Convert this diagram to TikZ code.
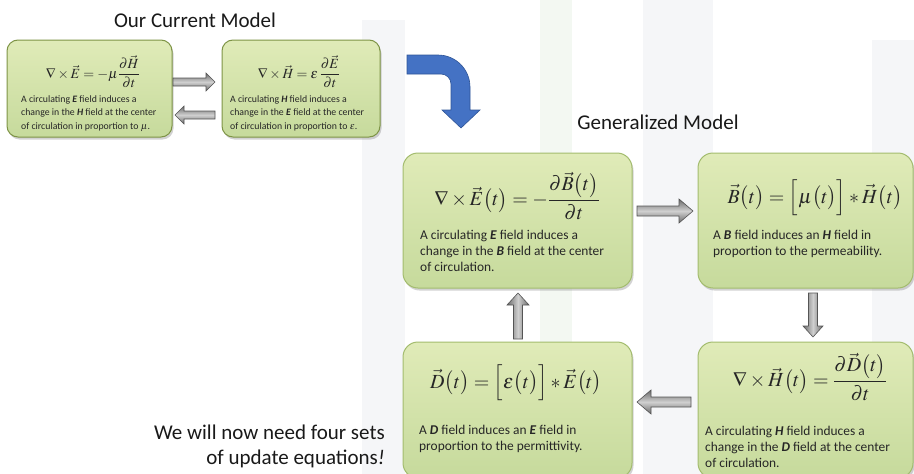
\documentclass[tikz,border=0pt]{standalone}
\usepackage{mathptmx}
\usepackage[no-math]{fontspec}
\setmainfont{Carlito}
\usetikzlibrary{shadows,calc}
\definecolor{boxtop}{HTML}{E0EBB8}
\definecolor{boxbot}{HTML}{C6DA9C}
\definecolor{boxline}{HTML}{A3BC6E}
\definecolor{smallline}{HTML}{7E9446}
\definecolor{txt}{HTML}{262626}
\definecolor{bluearr}{HTML}{4472C4}
\definecolor{bluedge}{HTML}{2F5597}
\definecolor{arrdark}{HTML}{6A6A6A}
\definecolor{arrlight}{HTML}{CFCFCF}
\definecolor{arredge}{HTML}{555555}
\definecolor{wm}{HTML}{F5F6F8}
\definecolor{wmg}{HTML}{F3F8F2}
\tikzset{
  gbox/.style={rectangle, rounded corners=15pt, top color=boxtop, bottom color=boxbot,
    draw=boxline, line width=1pt, inner sep=0,
    drop shadow={shadow xshift=1.5pt, shadow yshift=-2.5pt, opacity=0.35}},
  sbox/.style={gbox, rounded corners=11pt, draw=smallline},
  desc/.style={anchor=north west, align=left, inner sep=0, text=txt,
    font=\fontsize{13.4}{16}\selectfont},
  sdesc/.style={desc, font=\fontsize{9.8}{13.5}\selectfont},
  eq/.style={inner sep=0, text=txt, font=\fontsize{20}{24}\selectfont},
  seq/.style={inner sep=0, text=txt, font=\fontsize{14}{17}\selectfont},
  title/.style={inner sep=0, text=black!90, font=\fontsize{21}{25}\selectfont},
  hshade/.style={top color=arrdark, bottom color=arrdark, middle color=arrlight},
  vshade/.style={left color=arrdark, right color=arrdark, middle color=arrlight},
}
% name, centre, angle, half length, head half width, shaft half width, head length, shading
\newcommand\blockarrow[8]{%
  \begin{scope}[shift={#2}, rotate=#3]
    \coordinate (#1) at (0,0);
    \shade[#8, draw=arredge, line width=0.6pt]
      (-#4,-#6) -- ({#4-#7},-#6) -- ({#4-#7},-#5) -- (#4,0)
      -- ({#4-#7},#5) -- ({#4-#7},#6) -- (-#4,#6) -- cycle;
  \end{scope}}
\begin{document}
\begin{tikzpicture}[x=1pt,y=-1pt]
\useasboundingbox (0,0) rectangle (914,474);
\clip (0,0) rectangle (914,474);
\fill[white] (0,0) rectangle (914,474);
% faint watermark bands
\fill[wm] (362,20) rectangle (405,474);
\fill[wmg] (540,0) rectangle (572,474);
\fill[wm] (643,0) rectangle (713,474);
\fill[wm] (872,40) rectangle (914,474);

% titles
\node[title] (t1) at (195,20) {Our Current Model};
\node[title] (t2) at (658,122) {Generalized Model};
\node[title, anchor=north east, align=right] (t3) at (385,425)
  {We will now need four sets\\of update equations\textit{!}};

% current model
\node[sbox, minimum width=165pt, minimum height=97pt] (s1) at (89.5,88.5) {};
\node[sbox, minimum width=158pt, minimum height=97pt] (s2) at (301,88.5) {};
\node[seq] (s1eq) at (93,72) {$\displaystyle \nabla\times\vec{E}=-\mu\frac{\partial\vec{H}}{\partial t}$};
\node[seq] (s2eq) at (299,72) {$\displaystyle \nabla\times\vec{H}=\varepsilon\,\frac{\partial\vec{E}}{\partial t}$};
\node[sdesc] (s1tx) at (21,95) {A circulating \textbf{\textit{E}} field induces a\\change in the \textbf{\textit{H}} field at the center\\of circulation in proportion to $\mu$.};
\node[sdesc] (s2tx) at (230,95) {A circulating \textbf{\textit{H}} field induces a\\change in the \textbf{\textit{E}} field at the center\\of circulation in proportion to $\varepsilon$.};
\blockarrow{s12}{(194,82)}{0}{21}{9}{4}{9}{hshade}
\blockarrow{s21}{(195,115)}{180}{20}{9}{4}{9}{hshade}

% blue bent arrow
\path[fill=bluearr, draw=bluedge, line width=0.6pt]
  (407,55) -- (438,55) arc[start angle=-90, end angle=0, radius=32]
  -- (470,110) -- (480,110) -- (461,128) -- (442,110) -- (451,110)
  -- (451,84) arc[start angle=0, end angle=-90, radius=10] -- (407,74) -- cycle;

% generalized model
\node[gbox, minimum width=229pt, minimum height=135pt] (g1) at (517.5,220.5) {};
\node[gbox, minimum width=215pt, minimum height=135pt] (g2) at (805.5,220.5) {};
\node[gbox, minimum width=229pt, minimum height=136pt] (g3) at (517.5,410) {};
\node[gbox, minimum width=215pt, minimum height=136pt] (g4) at (805.5,410) {};

\node[eq] (g1eq) at (517,196) {$\displaystyle \nabla\times\vec{E}\bigl(t\bigr)=-\frac{\partial\vec{B}\bigl(t\bigr)}{\partial t}$};
\node[eq] (g2eq) at (815,198) {$\displaystyle \vec{B}\bigl(t\bigr)=\Bigl[\mu\bigl(t\bigr)\Bigr]*\vec{H}\bigl(t\bigr)$};
\node[eq] (g3eq) at (516,383) {$\displaystyle \vec{D}\bigl(t\bigr)=\Bigl[\varepsilon\bigl(t\bigr)\Bigr]*\vec{E}\bigl(t\bigr)$};
\node[eq] (g4eq) at (810,377) {$\displaystyle \nabla\times\vec{H}\bigl(t\bigr)=\frac{\partial\vec{D}\bigl(t\bigr)}{\partial t}$};

\node[desc] (g1tx) at (420,230) {A circulating \textbf{\textit{E}} field induces a\\change in the \textbf{\textit{B}} field at the center\\of circulation.};
\node[desc] (g2tx) at (713,230) {A \textbf{\textit{B}} field induces an \textbf{\textit{H}} field in\\proportion to the permeability.};
\node[desc] (g3tx) at (419,425) {A \textbf{\textit{D}} field induces an \textbf{\textit{E}} field in\\proportion to the permittivity.};
\node[desc] (g4tx) at (705,426) {A circulating \textbf{\textit{H}} field induces a\\change in the \textbf{\textit{D}} field at the center\\of circulation.};

\blockarrow{a12}{(665,211)}{0}{28}{12}{5}{14}{hshade}
\blockarrow{a24}{(813,315)}{-90}{22}{10}{4.5}{11}{vshade}
\blockarrow{a43}{(664,402)}{180}{27}{12}{5}{14}{hshade}
\blockarrow{a31}{(518,316)}{90}{23}{11}{4.5}{12}{vshade}
\end{tikzpicture}
\end{document}
